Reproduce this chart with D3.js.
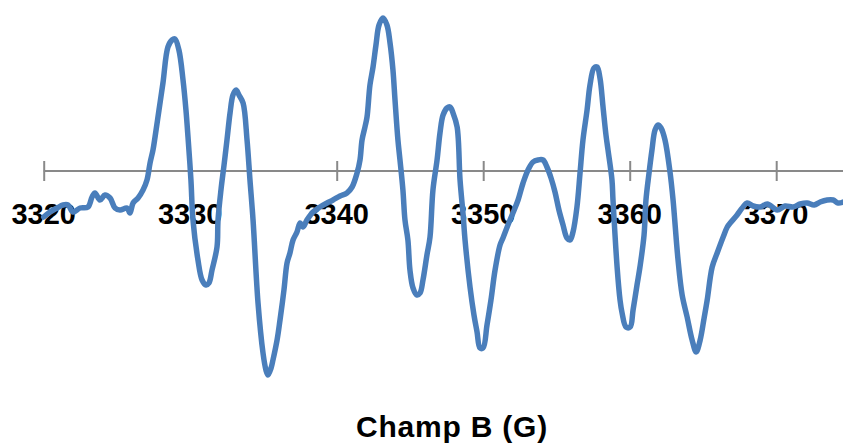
<!DOCTYPE html>
<html>
<head>
<meta charset="utf-8">
<script src="https://cdn.jsdelivr.net/npm/d3@7"></script>
<style>
  html, body { margin: 0; padding: 0; background: #fff; }
  svg { display: block; }
</style>
</head>
<body>
<svg id="chart" width="843" height="443"></svg>
<script>
// Magnetic field (G)
const field = [
  3320.00,3320.43,3320.91,3321.32,3321.66,3322.00,3322.48,3323.02,3323.30,3323.50,
  3323.84,3324.18,3324.53,3324.87,3325.21,3325.69,3325.89,3326.10,3326.44,3326.78,
  3327.05,3327.26,3327.46,3327.60,3327.87,3328.14,3328.48,3328.76,3328.96,3329.23,
  3329.51,3329.71,3329.85,3330.05,3330.19,3330.53,3330.81,3331.08,3331.28,3331.49,
  3331.83,3331.90,3332.10,3332.31,3332.51,3332.72,3332.92,3333.13,3333.33,3333.61,
  3333.88,3334.08,3334.29,3334.63,3334.97,3335.17,3335.31,3335.52,3335.65,3335.93,
  3336.13,3336.40,3336.61,3336.81,3337.02,3337.29,3337.50,3337.70,3337.97,3338.38,
  3338.86,3339.34,3339.75,3340.23,3340.70,3341.05,3341.39,3341.59,3341.73,3341.93,
  3342.07,3342.27,3342.48,3342.68,3342.89,3343.16,3343.43,3343.64,3343.84,3343.98,
  3344.18,3344.32,3344.52,3344.66,3344.86,3345.00,3345.21,3345.48,3345.69,3345.89,
  3346.16,3346.37,3346.57,3346.85,3347.05,3347.26,3347.53,3347.74,3347.94,3348.22,
  3348.42,3348.63,3348.76,3349.10,3349.37,3349.58,3349.78,3349.99,3350.26,3350.53,
  3350.81,3351.15,3351.35,3351.69,3352.03,3352.38,3352.72,3353.06,3353.40,3353.74,
  3354.08,3354.35,3354.63,3354.90,3355.17,3355.45,3355.72,3355.93,3356.13,3356.40,
  3356.61,3356.81,3357.09,3357.29,3357.56,3357.77,3357.97,3358.18,3358.38,3358.52,
  3358.79,3358.86,3359.14,3359.34,3359.48,3359.75,3360.03,3360.23,3360.50,3360.70,
  3360.98,3361.11,3361.32,3361.52,3361.73,3361.94,3362.14,3362.41,3362.76,3362.96,
  3363.30,3363.58,3363.92,3364.26,3364.54,3364.81,3365.08,3365.29,3365.63,3365.97,
  3366.38,3366.66,3366.86,3367.33,3367.68,3368.02,3368.43,3368.91,3369.39,3370.07,
  3370.61,3371.16,3371.64,3372.11,3372.59,3373.00,3373.48,3373.89,3374.23,3374.57
];
// EPR signal (arbitrary units)
const signal = [
  -0.46,-0.41,-0.37,-0.34,-0.34,-0.41,-0.37,-0.36,-0.26,-0.22,
  -0.29,-0.24,-0.27,-0.37,-0.39,-0.37,-0.42,-0.32,-0.27,-0.19,
  -0.09, 0.08, 0.21, 0.34, 0.61, 0.88, 1.24, 1.31, 1.32, 1.21,
   0.91, 0.61, 0.34,-0.09,-0.49,-0.89,-1.09,-1.14,-1.12,-0.99,
  -0.76,-0.49,-0.19, 0.06, 0.31, 0.58, 0.76, 0.81, 0.76, 0.68,
   0.31,-0.09,-0.49,-1.32,-1.82,-1.99,-2.04,-1.97,-1.89,-1.69,
  -1.49,-1.19,-0.92,-0.82,-0.69,-0.61,-0.52,-0.56,-0.49,-0.41,
  -0.36,-0.32,-0.29,-0.25,-0.22,-0.16,-0.02, 0.11, 0.31, 0.44,
   0.54, 0.86, 1.04, 1.26, 1.46, 1.53, 1.46, 1.28, 1.01, 0.71,
   0.31, 0.11,-0.19,-0.49,-0.69,-0.99,-1.17,-1.24,-1.22,-1.09,
  -0.84,-0.66,-0.19, 0.11, 0.38, 0.56, 0.63, 0.64, 0.58, 0.44,
  -0.09,-0.44,-0.69,-1.16,-1.44,-1.61,-1.77,-1.77,-1.54,-1.29,
  -0.99,-0.74,-0.67,-0.54,-0.42,-0.29,-0.12, 0.01, 0.09, 0.11,
   0.11, 0.04,-0.07,-0.21,-0.39,-0.54,-0.67,-0.69,-0.61,-0.36,
  -0.02, 0.31, 0.61, 0.86, 1.03, 1.04, 0.93, 0.64, 0.36, 0.21,
  -0.09,-0.29,-0.96,-1.29,-1.42,-1.56,-1.56,-1.39,-1.14,-0.96,
  -0.64,-0.29,-0.02, 0.21, 0.41, 0.46, 0.43, 0.31,-0.02,-0.29,
  -0.89,-1.24,-1.46,-1.69,-1.81,-1.69,-1.47,-1.29,-0.96,-0.82,
  -0.66,-0.56,-0.52,-0.44,-0.37,-0.32,-0.35,-0.36,-0.33,-0.39,
  -0.35,-0.36,-0.33,-0.32,-0.34,-0.31,-0.29,-0.29,-0.32,-0.31
];
const tickValues = [3320, 3330, 3340, 3350, 3360, 3370];
const tickLabels = ["3320", "3330", "3340", "3350", "3360", "3370"];
const xTitle = "Champ B (G)";

const svg = d3.select("#chart");
const W = 843, H = 443;

const x = d3.scaleLinear().domain([3320, 3370]).range([43.7, 776.2]);
const y = d3.scaleLinear().domain([-1, 1]).range([271, 71]);

const axisY = y(0);
const axisColor = "#898989";

// axis baseline
svg.append("line")
  .attr("x1", x(3320)).attr("x2", W)
  .attr("y1", axisY).attr("y2", axisY)
  .attr("stroke", axisColor).attr("stroke-width", 2);

// ticks (crossing the axis)
const axis = d3.axisBottom(x)
  .tickValues(tickValues)
  .tickSize(20)
  .tickFormat("");
const gAxis = svg.append("g")
  .attr("transform", `translate(0,${axisY - 10})`)
  .call(axis);
gAxis.select(".domain").remove();
gAxis.selectAll(".tick line").attr("stroke", axisColor).attr("stroke-width", 2);

// tick labels
svg.append("g").selectAll("text")
  .data(tickValues)
  .join("text")
  .attr("x", d => x(d))
  .attr("y", 224)
  .attr("text-anchor", "middle")
  .attr("font-family", "'Liberation Sans', Arial, sans-serif")
  .attr("font-weight", "bold")
  .attr("font-size", 29)
  .attr("fill", "#000")
  .text((d, i) => tickLabels[i]);

// axis title
svg.append("text")
  .attr("x", 452)
  .attr("y", 437)
  .attr("text-anchor", "middle")
  .attr("font-family", "'Liberation Sans', Arial, sans-serif")
  .attr("font-weight", "bold")
  .attr("font-size", 30)
  .attr("letter-spacing", 0.8)
  .attr("fill", "#000")
  .text(xTitle);

// spectrum line
const data = field.map((f, i) => ({ f, v: signal[i] }));
const line = d3.line()
  .x(d => x(d.f))
  .y(d => y(d.v))
  .curve(d3.curveCatmullRom.alpha(0.5));

svg.append("path")
  .datum(data)
  .attr("d", line)
  .attr("fill", "none")
  .attr("stroke", "#4A7EBB")
  .attr("stroke-width", 5.5)
  .attr("stroke-linejoin", "round")
  .attr("stroke-linecap", "round");
</script>
</body>
</html>
